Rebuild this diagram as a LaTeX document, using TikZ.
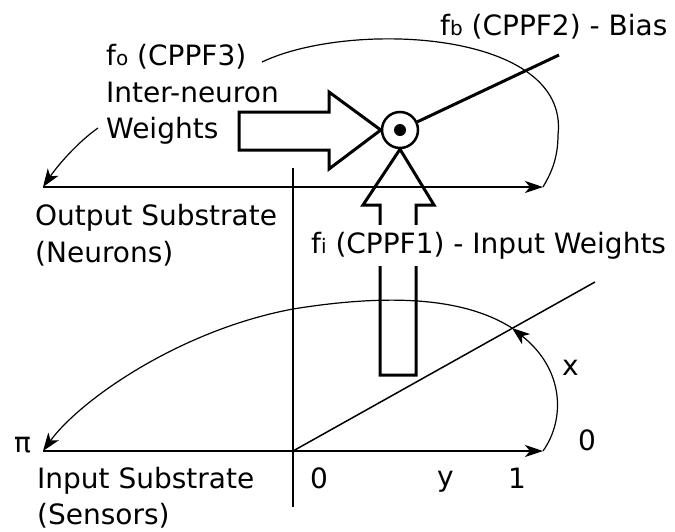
\documentclass[tikz,border=0pt]{standalone}
\usepackage{fontspec}
\setmainfont{DejaVu Sans}
\usetikzlibrary{arrows.meta}
\newcommand\smallsub[1]{{\fontsize{20}{20}\selectfont #1}}
\begin{document}
\begin{tikzpicture}[x=1pt,y=-1pt,
  lbl/.style={anchor=base west,inner sep=0pt,font=\fontsize{28}{32}\selectfont},
  axisline/.style={line width=2pt,-{Stealth[length=18pt,width=12pt,inset=5pt]}},
  thinarc/.style={line width=1.2pt},
  tipS/.style={-{Stealth[length=18pt,width=13pt,inset=5pt]}},
  block/.style={line width=3pt,line join=miter}]
\useasboundingbox (0,0) rectangle (675,531);
% coordinates
\coordinate (oL) at (43,187);
\coordinate (oR) at (543,187);
\coordinate (iL) at (43,451);
\coordinate (iR) at (543,451);
\coordinate (vT) at (293,168);
\coordinate (vB) at (293,507);
\coordinate (org) at (293,451);
\coordinate (dE) at (595,282);
\coordinate (bE) at (559,55);
\coordinate (foEnd) at (262,62);
\coordinate (wEnd) at (98,128);
\coordinate (xM) at (512,328);
\coordinate (iMid) at (293,309);
% neuron
\node[circle,draw,line width=2.5pt,minimum size=36pt,inner sep=0pt] (neuron) at (400,130) {};
\node[circle,fill=black,minimum size=12pt,inner sep=0pt] (dot) at (400,130) {};
\draw[line width=3pt] (neuron) -- (bE);
% block arrows
\draw[block] (239,112) -- (329,112) -- (329,92) -- (neuron.west) -- (329,169) -- (329,150) -- (239,150) -- cycle;
\draw[block] (380,375) -- (380,205) -- (363,205) -- (neuron.south) -- (434,205) -- (416,205) -- (416,375) -- cycle;
% axes
\draw[line width=2.5pt] (vT) -- (vB);
\draw[axisline] (oL) -- (oR);
\draw[axisline] (iL) -- (iR);
\draw[line width=1.5pt] (org) -- (dE);
% curves
\draw[thinarc] (foEnd) .. controls (350,20) and (570,30) .. (558,135) .. controls (558,160) and (550,175) .. (oR);
\draw[thinarc,tipS] (wEnd) .. controls (78,142) and (58,165) .. (oL);
\draw[thinarc,tipS] (iR) .. controls (565,420) and (565,370) .. (xM);
\draw[thinarc,tipS] (xM) .. controls (460,295) and (380,295) .. (iMid) .. controls (180,330) and (80,400) .. (iL);
% labels
\node[lbl] (fo) at (106,65) {f\smallsub{o} (CPPF3)};
\node[lbl] (inter) at (106,102) {Inter-neuron};
\node[lbl] (wts) at (106,138) {Weights};
\node[lbl] (fb) at (440,35) {f\smallsub{b} (CPPF2) - Bias};
\node[lbl,fill=white,inner ysep=7pt] (fi) at (311,253) {f\smallsub{i} (CPPF1) - Input Weights};
\node[lbl] (outs) at (35,225) {Output Substrate};
\node[lbl] (neur) at (35,262) {(Neurons)};
\node[lbl] (ins) at (37,488) {Input Substrate};
\node[lbl] (sens) at (37,524) {(Sensors)};
\node[lbl] (pi) at (14,452) {π};
\node[lbl] (zero) at (310,488) {0};
\node[lbl] (ylab) at (437,486) {y};
\node[lbl] (one) at (508,488) {1};
\node[lbl] (zeroR) at (578,450) {0};
\node[lbl] (xlab) at (562,375) {x};
\end{tikzpicture}
\end{document}
